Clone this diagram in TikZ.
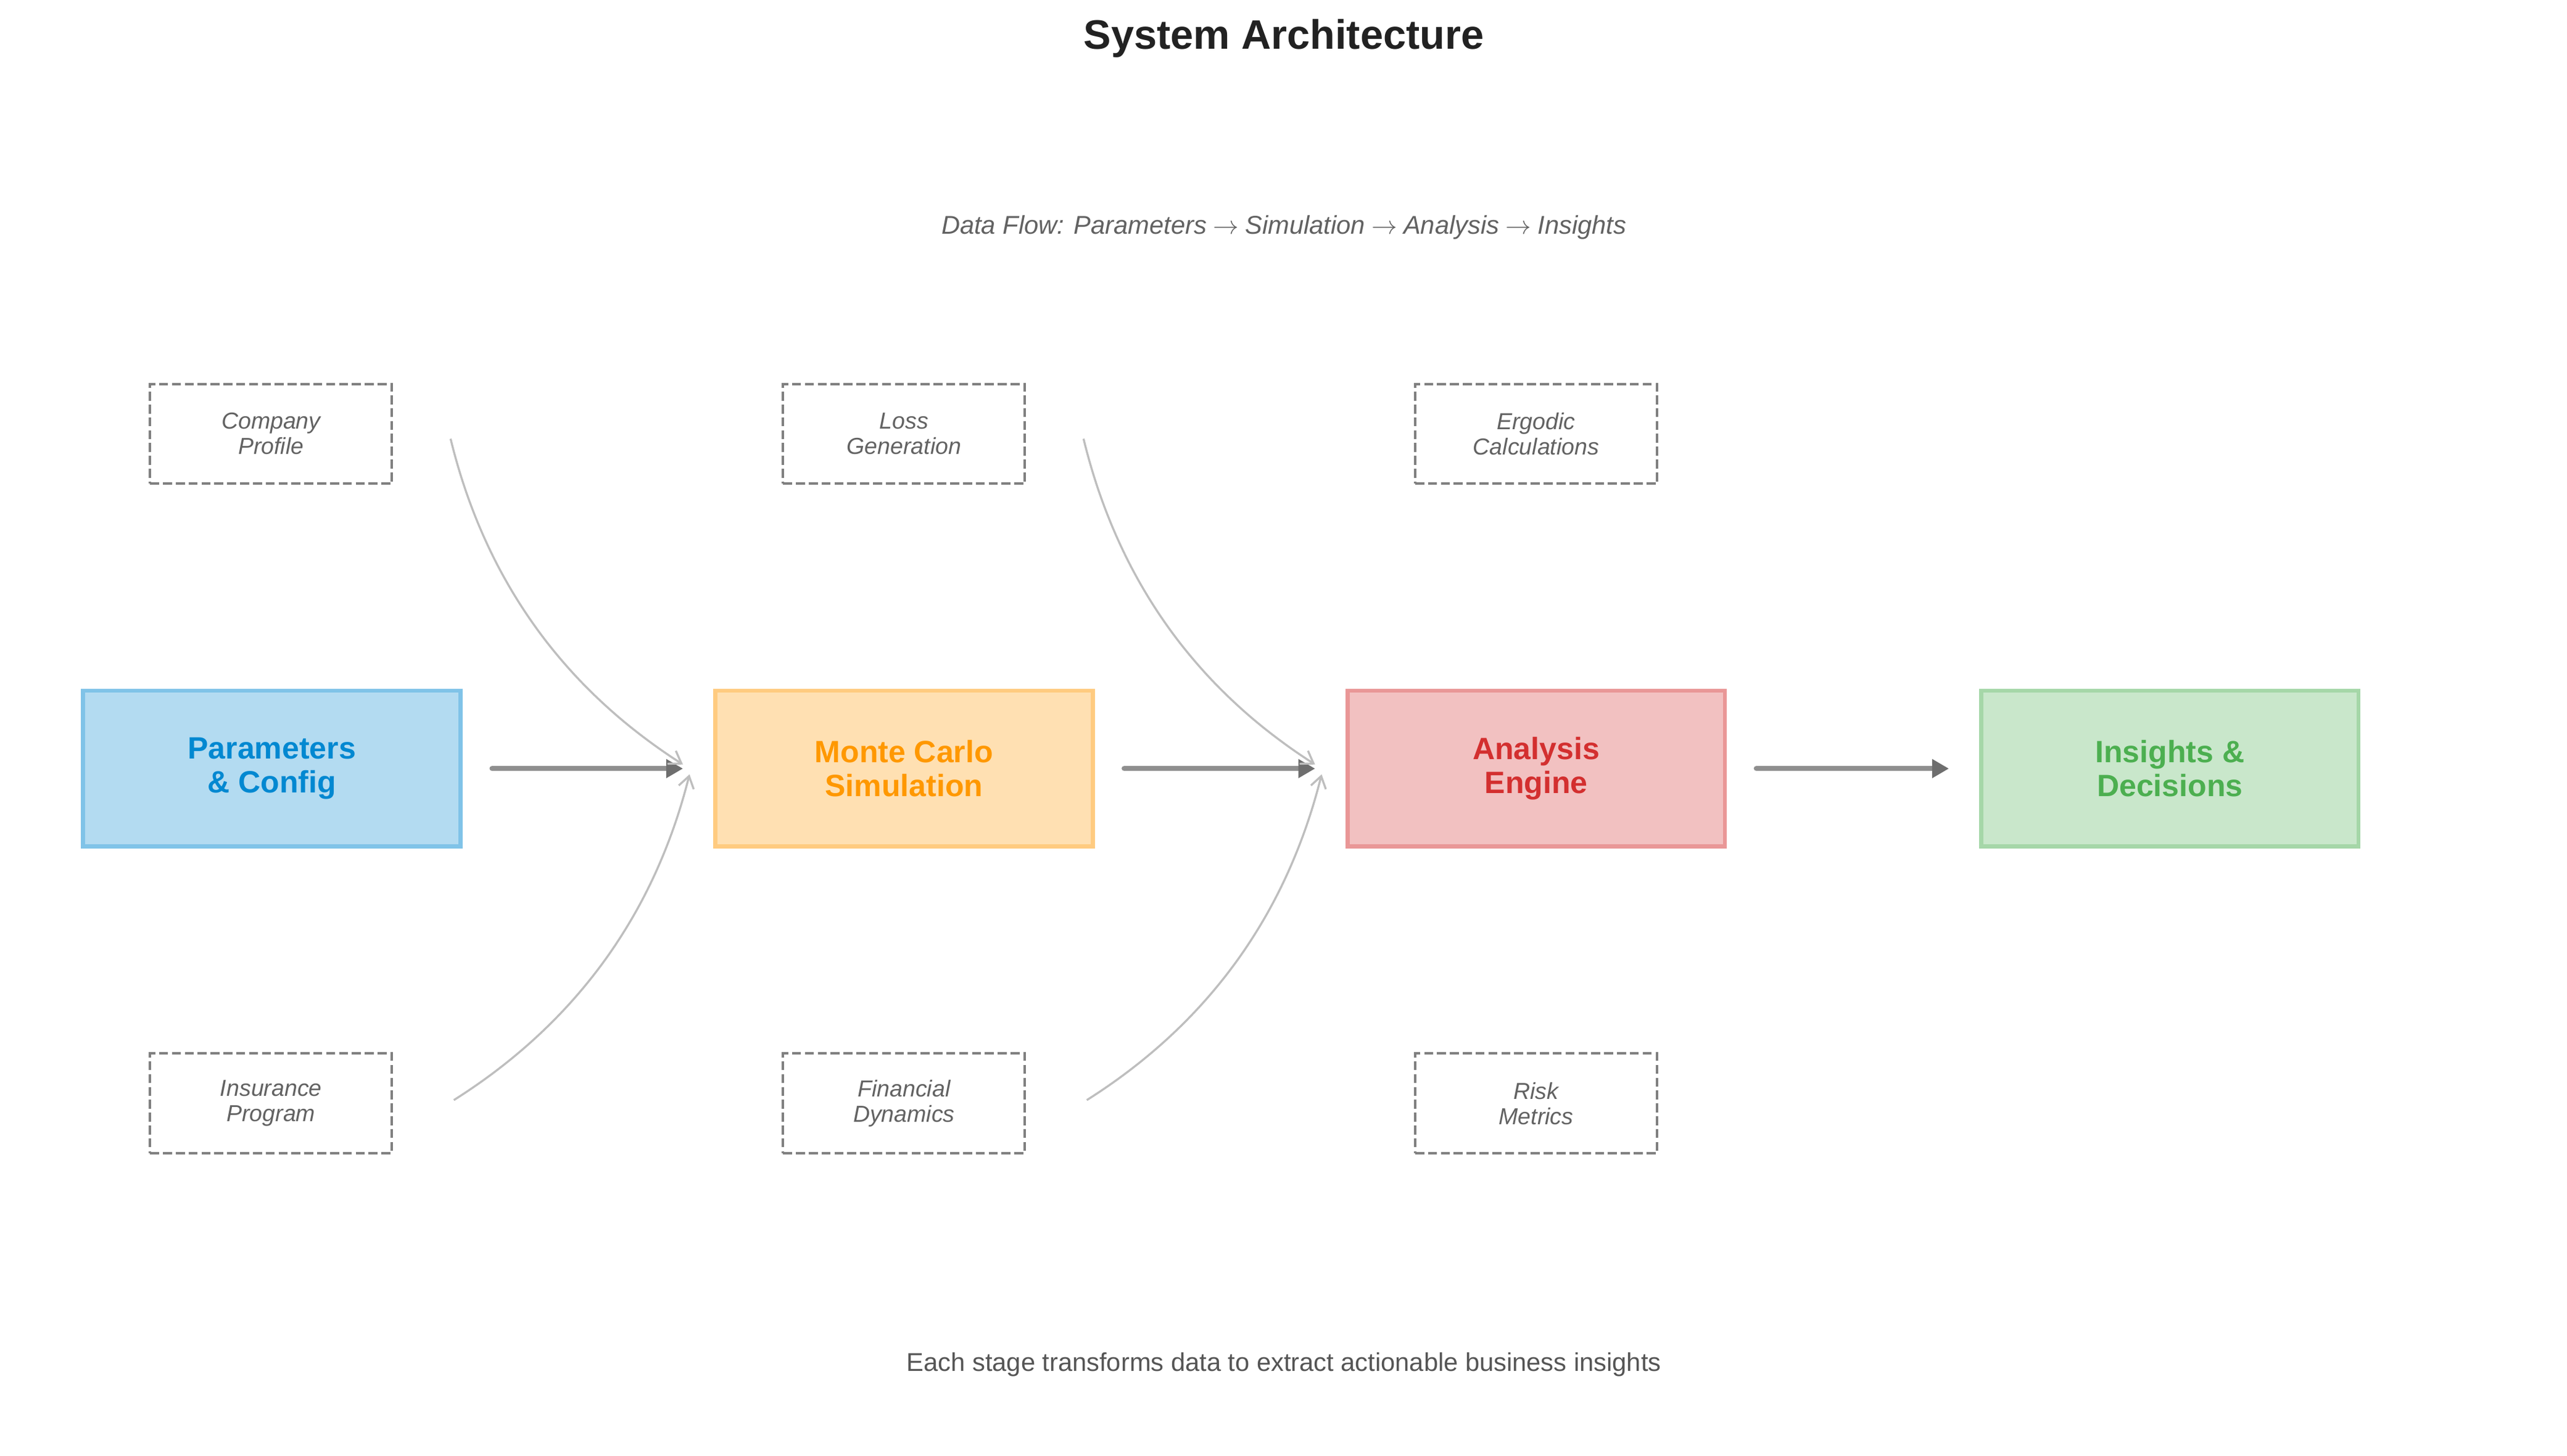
\documentclass[tikz,border=0pt]{standalone}
\usepackage{fontspec}
\setmainfont{Liberation Sans}
\usetikzlibrary{arrows.meta,calc}
\definecolor{cblue}{HTML}{0288D1}
\definecolor{corange}{HTML}{FF9800}
\definecolor{cred}{HTML}{D32F2F}
\definecolor{cgreen}{HTML}{4CAF50}
\definecolor{ctitle}{HTML}{222222}
\definecolor{csub}{HTML}{626262}
\definecolor{cfoot}{HTML}{555555}
\definecolor{cdash}{HTML}{808080}
\definecolor{ccurve}{HTML}{BEBEBE}
\definecolor{cflow}{HTML}{8F8F8F}
\definecolor{cflowhead}{HTML}{6E6E6E}
\newcommand{\flowarrow}{\kern-0.3pt$\rightarrow$\kern-0.3pt}
\begin{document}
\begin{tikzpicture}[x=0.6371pt,y=-0.6371pt,
  mainbox/.style={draw=#1!50, fill=#1!30, line width=1.6pt, minimum width=146.8pt,
    minimum height=60.7pt, inner sep=0pt, text=#1,
    font=\fontsize{12}{13.2}\selectfont\bfseries, align=center},
  subbox/.style={draw=cdash, line width=1pt, dash pattern=on 3.5pt off 1.5pt,
    minimum width=94.1pt, minimum height=38.8pt, inner sep=0pt, text=csub,
    font=\fontsize{9}{9.8}\selectfont\itshape, align=center},
  flow/.style={draw=cflow, line width=2pt, line cap=round,
    -{Triangle[length=6.5pt,width=7pt,fill=cflowhead,color=cflowhead]}},
  feed/.style={draw=ccurve, line width=0.8pt, -{Straight Barb[length=4.5pt,width=6pt]}},
  lbl/.style={anchor=base, inner sep=0pt}
]
\useasboundingbox (0,0) rectangle (1567.5,889.4);

% title and captions
\node[lbl, font=\fontsize{16}{19}\selectfont\bfseries, text=ctitle] (title) at (784,30) {System Architecture};
\node[lbl, font=\fontsize{10}{12}\selectfont\itshape, text=csub] (flowtxt) at (784,143)
  {Data Flow: Parameters \flowarrow{} Simulation \flowarrow{} Analysis \flowarrow{} Insights};
\node[lbl, font=\fontsize{10}{12}\selectfont, text=cfoot] (foot) at (784,837.5)
  {Each stage transforms data to extract actionable business insights};

% main stages
\node[mainbox=cblue]   (par) at (166,469.5)  {Parameters\\\& Config};
\node[mainbox=corange] (mc)  at (552,469.5)  {Monte Carlo\\Simulation};
\node[mainbox=cred]    (ana) at (938,469.5)  {Analysis\\Engine};
\node[mainbox=cgreen]  (ins) at (1325,469.5) {Insights \&\\Decisions};

% sub components
\node[subbox] (cp) at (165.5,265) {Company\\Profile};
\node[subbox] (lg) at (552,265)   {Loss\\Generation};
\node[subbox] (ec) at (938,265)   {Ergodic\\Calculations};
\node[subbox] (ip) at (165.5,674) {Insurance\\Program};
\node[subbox] (fd) at (552,674)   {Financial\\Dynamics};
\node[subbox] (rm) at (938,674)   {Risk\\Metrics};

% main flow arrows
\draw[flow] ($(par.east)+(18,0)$) -- ($(mc.west)+(-18.5,0)$);
\draw[flow] ($(mc.east)+(18,0)$) -- ($(ana.west)+(-18.5,0)$);
\draw[flow] ($(ana.east)+(18,0)$) -- ($(ins.west)+(-18.5,0)$);

% feed curve end points
\coordinate (cpo) at ($(cp.east)+(35,3)$);
\coordinate (ipo) at ($(ip.east)+(37,-2)$);
\coordinate (lgo) at ($(lg.east)+(35,3)$);
\coordinate (fdo) at ($(fd.east)+(37,-2)$);
\coordinate (mcin1) at ($(mc.west)+(-18.5,-2.5)$);
\coordinate (mcin2) at ($(mc.west)+(-14.5,3.5)$);
\coordinate (anain1) at ($(ana.west)+(-18.5,-2.5)$);
\coordinate (anain2) at ($(ana.west)+(-14.5,3.5)$);

% feed curves
\draw[feed] (cpo) .. controls +(20.8,85.3) and +(-73.9,-47.4) .. (mcin1);
\draw[feed] (ipo) .. controls +(74.5,-47.1) and +(-21.5,85.5) .. (mcin2);
\draw[feed] (lgo) .. controls +(20.8,85.3) and +(-73.9,-47.4) .. (anain1);
\draw[feed] (fdo) .. controls +(74.5,-47.1) and +(-21.5,85.5) .. (anain2);
\end{tikzpicture}
\end{document}
